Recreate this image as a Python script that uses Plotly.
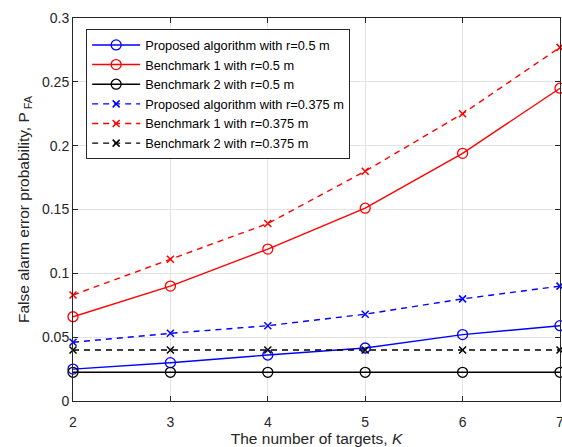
import plotly.graph_objects as go

# Number of targets K
targets = [2, 3, 4, 5, 6, 7]

# False alarm probability for each method and sensing radius
proposed_r050 = [0.025, 0.030, 0.036, 0.0415, 0.052, 0.059]
bench1_r050 = [0.066, 0.090, 0.119, 0.151, 0.194, 0.245]
bench2_r050 = [0.0225, 0.0225, 0.0225, 0.0225, 0.0225, 0.0225]
proposed_r0375 = [0.046, 0.053, 0.059, 0.068, 0.080, 0.090]
bench1_r0375 = [0.083, 0.111, 0.139, 0.180, 0.225, 0.277]
bench2_r0375 = [0.040, 0.040, 0.040, 0.040, 0.040, 0.040]

series_names = [
    "Proposed algorithm with r=0.5 m",
    "Benchmark 1 with r=0.5 m",
    "Benchmark 2 with r=0.5 m",
    "Proposed algorithm with r=0.375 m",
    "Benchmark 1 with r=0.375 m",
    "Benchmark 2 with r=0.375 m",
]
series_values = [proposed_r050, bench1_r050, bench2_r050,
                 proposed_r0375, bench1_r0375, bench2_r0375]
colors = ["#0000ff", "#ff0000", "#000000", "#0000ff", "#ff0000", "#000000"]
solid = [True, True, True, False, False, False]

fig = go.Figure()
for name, vals, col, is_solid in zip(series_names, series_values, colors, solid):
    if is_solid:
        marker = dict(symbol="circle-open", size=10, color=col, line=dict(width=1.3, color=col))
        line = dict(color=col, width=1.4, dash="solid")
    else:
        marker = dict(symbol="x-thin-open", size=7, color=col, line=dict(width=1.5, color=col))
        line = dict(color=col, width=1.4, dash="6px,5px")
    fig.add_trace(go.Scatter(x=targets, y=vals, mode="lines+markers", name=name,
                             line=line, marker=marker, cliponaxis=False))

axis_common = dict(
    showline=True, linecolor="#262626", linewidth=1, mirror="ticks",
    ticks="inside", ticklen=5, tickcolor="#262626",
    showgrid=True, gridcolor="#e3e3e3", gridwidth=1, zeroline=False,
    tickfont=dict(size=14, color="#262626"),
    ticklabeloverflow="allow", automargin=False,
)

fig.update_layout(
    width=562, height=447,
    margin=dict(l=73, r=2, t=18, b=46),
    paper_bgcolor="white", plot_bgcolor="white",
    font=dict(family="Liberation Sans, Arial, sans-serif", color="#262626"),
    xaxis=dict(range=[2, 7], tickvals=targets, ticktext=[str(t) for t in targets],
               title=dict(text="The number of targets, <i>K</i>", font=dict(size=15.5), standoff=6),
               ticklabelstandoff=8,
               **axis_common),
    yaxis=dict(range=[0, 0.3], tickvals=[0, 0.05, 0.1, 0.15, 0.2, 0.25, 0.3],
               ticktext=["0", "0.05", "0.1", "0.15", "0.2", "0.25", "0.3"],
               title=dict(text="False alarm error probability, P<sub> FA</sub>", font=dict(size=15.5), standoff=8),
               **axis_common),
    legend=dict(x=0.027, y=0.971, xanchor="left", yanchor="top",
                bgcolor="white", bordercolor="#262626", borderwidth=1,
                font=dict(size=12.8, color="#000000"), tracegroupgap=0,
                itemwidth=48),
    showlegend=True,
)

fig.write_html("out.html")
